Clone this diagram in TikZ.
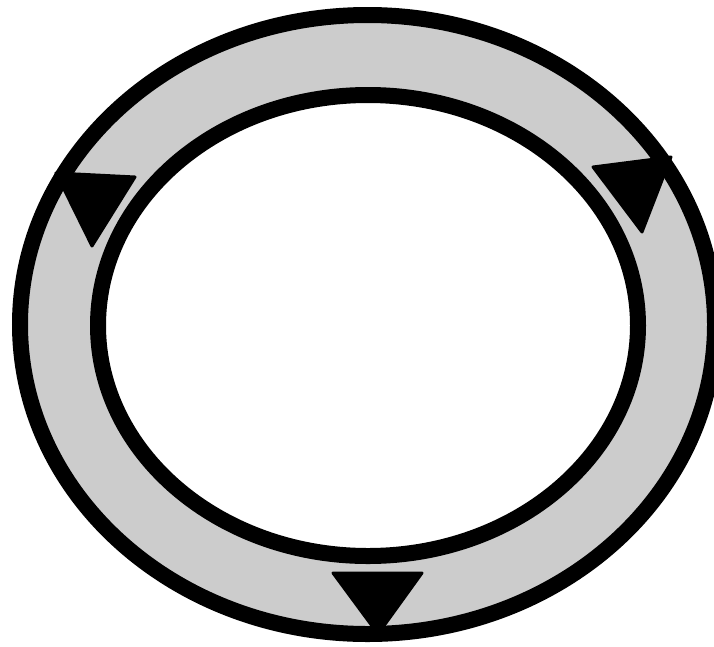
\documentclass[tikz,border=0pt]{standalone}
\usepackage{tikz}
\definecolor{ringgray}{HTML}{CCCCCC}
\tikzset{
  ring/.style={line width=16pt, draw=black},
  arrowtri/.style={fill=black, draw=black, line width=3pt, line join=round}
}
\begin{document}
\begin{tikzpicture}[x=1pt,y=-1pt]
\useasboundingbox (0,0) rectangle (714,646);
% outer ring
\draw[ring, fill=ringgray] (367.5,324.5) ellipse [x radius=347.5, y radius=309.5];
% inner hole
\draw[ring, fill=white] (368,325.5) ellipse [x radius=270, y radius=230.5];
% arrowheads
\draw[arrowtri] (56,173) -- (135,177) -- (92,246) -- cycle;
\draw[arrowtri] (593,167) -- (671,157) -- (642,232) -- cycle;
\draw[arrowtri] (333,573) -- (422,573) -- (378,634) -- cycle;
\end{tikzpicture}
\end{document}
